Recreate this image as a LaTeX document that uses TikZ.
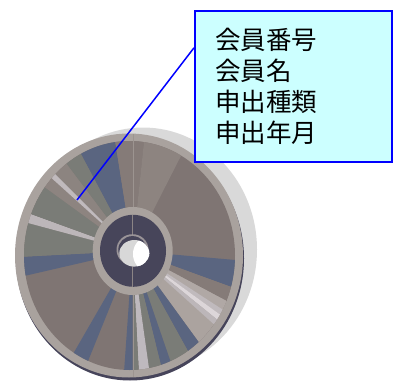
\documentclass[tikz,border=0pt]{standalone}
\usepackage{fontspec}
\newfontfamily\jpfont{Noto Sans CJK JP}
\usetikzlibrary{calc}

% disc palette
\definecolor{shadowgray}{HTML}{D9D9D9}
\definecolor{edgedark}{HTML}{46445A}
\definecolor{rimgray}{HTML}{A9A29E}
\definecolor{discbrown}{HTML}{7F7573}
\definecolor{discbrownB}{HTML}{857B78}
\definecolor{discbrownC}{HTML}{8C8480}
\definecolor{disclight}{HTML}{8D8480}
\definecolor{slateblue}{HTML}{5A6580}
\definecolor{graygreen}{HTML}{7A7C77}
\definecolor{paleA}{HTML}{B0A8A5}
\definecolor{paleB}{HTML}{C0BABD}
\definecolor{paleC}{HTML}{DCD6D9}
\definecolor{paleD}{HTML}{BCB6B9}
\definecolor{paleE}{HTML}{ABA39F}
\definecolor{paleF}{HTML}{BEB9BE}
\definecolor{seamgray}{HTML}{9C9490}
\definecolor{hubdark}{HTML}{47455A}
\definecolor{holering}{HTML}{9A9498}
\definecolor{holegray}{HTML}{D8D8D8}
% callout palette
\definecolor{memoblue}{HTML}{0000FF}
\definecolor{memofill}{HTML}{CCFFFF}

% one coloured sector of the disc, from angle #1 to #2 (counter-clockwise, degrees)
\newcommand\discwedge[3]{%
  \fill[#3] (hub) -- +({-(#1)}:260) -- +({-((#1)+(#2))/2}:260) -- +({-(#2)}:260) -- cycle;}

\tikzset{
  memo/.style={draw=memoblue, line width=2pt, fill=memofill, anchor=north west,
    minimum width=197pt, minimum height=151pt, text width=157pt, inner xsep=20pt,
    align=left, font=\jpfont\fontsize{25.5}{31}\selectfont},
  pointer/.style={draw=memoblue, line width=1.5pt}
}

\begin{document}
\begin{tikzpicture}[x=1pt,y=-1pt]
\useasboundingbox (0,0) rectangle (393,380);

\coordinate (hub) at (132.5,251);

% disc body: thickness seen on the right and the dark lower edge
\fill[shadowgray] (143,249.5) ellipse [x radius=114, y radius=122];
\fill[edgedark] (130,258.5) ellipse [x radius=114, y radius=122];
\fill[rimgray] (129,255.5) ellipse [x radius=114, y radius=122];

% recorded surface
\begin{scope}
  \clip (129.5,255.5) ellipse [x radius=105.5, y radius=114.5];
  \fill[discbrown] (129.5,255.5) ellipse [x radius=110, y radius=120];
  \discwedge{99}{118}{slateblue}
  \discwedge{84}{99}{discbrownB}
  \discwedge{63}{84}{disclight}
  \discwedge{-20}{-5}{slateblue}
  \discwedge{-28}{-20}{discbrownB}
  \discwedge{-54}{-28}{paleE}
  \discwedge{-33}{-28}{paleA}
  \discwedge{-36}{-33}{paleB}
  \discwedge{-39}{-36}{paleC}
  \discwedge{-42}{-39}{paleD}
  \discwedge{-61}{-54}{slateblue}
  \discwedge{-71}{-61}{graygreen}
  \discwedge{-76}{-71}{slateblue}
  \discwedge{-82}{-76}{graygreen}
  \discwedge{-87}{-82}{paleF}
  \discwedge{-90}{-87}{graygreen}
  \discwedge{-94}{-90}{slateblue}
  \discwedge{-120}{-112}{slateblue}
  \discwedge{183}{193}{slateblue}
  \discwedge{165}{183}{graygreen}
  \discwedge{160}{165}{paleD}
  \discwedge{144}{160}{graygreen}
  \discwedge{138}{144}{disclight}
  \discwedge{135}{138}{paleB}
  \discwedge{127}{135}{discbrownC}
  \discwedge{118}{127}{graygreen}
\end{scope}

% seam across the face
\draw[seamgray, line width=0.6pt] (133,134) -- (133,377);

% centre hub
\fill[rimgray] (132.7,251) ellipse [x radius=40, y radius=44];
\fill[hubdark] (133,250.8) ellipse [x radius=33, y radius=36];
\draw[seamgray!80!hubdark, line width=0.6pt] (132.7,215) -- (132.7,287);
\fill[holering] (132.5,249.7) ellipse [x radius=16, y radius=15.5];
\fill[hubdark] (132.5,249.7) ellipse [x radius=14.2, y radius=13.6];
\begin{scope}
  \clip (134.3,253.3) ellipse [x radius=15, y radius=13.3];
  \fill[holegray] (134.3,253.3) ellipse [x radius=15, y radius=13.3];
  \fill[white] (146,254) ellipse [x radius=13, y radius=16];
\end{scope}

% callout
\node[memo] (memo) at (194,10) {会員番号\\会員名\\申出種類\\申出年月};
\coordinate (tail) at ($(memo.north west)!0.247!(memo.south west)$);
\coordinate (tip) at (77,200);
\draw[pointer] (tail) -- (tip);
\end{tikzpicture}
\end{document}
